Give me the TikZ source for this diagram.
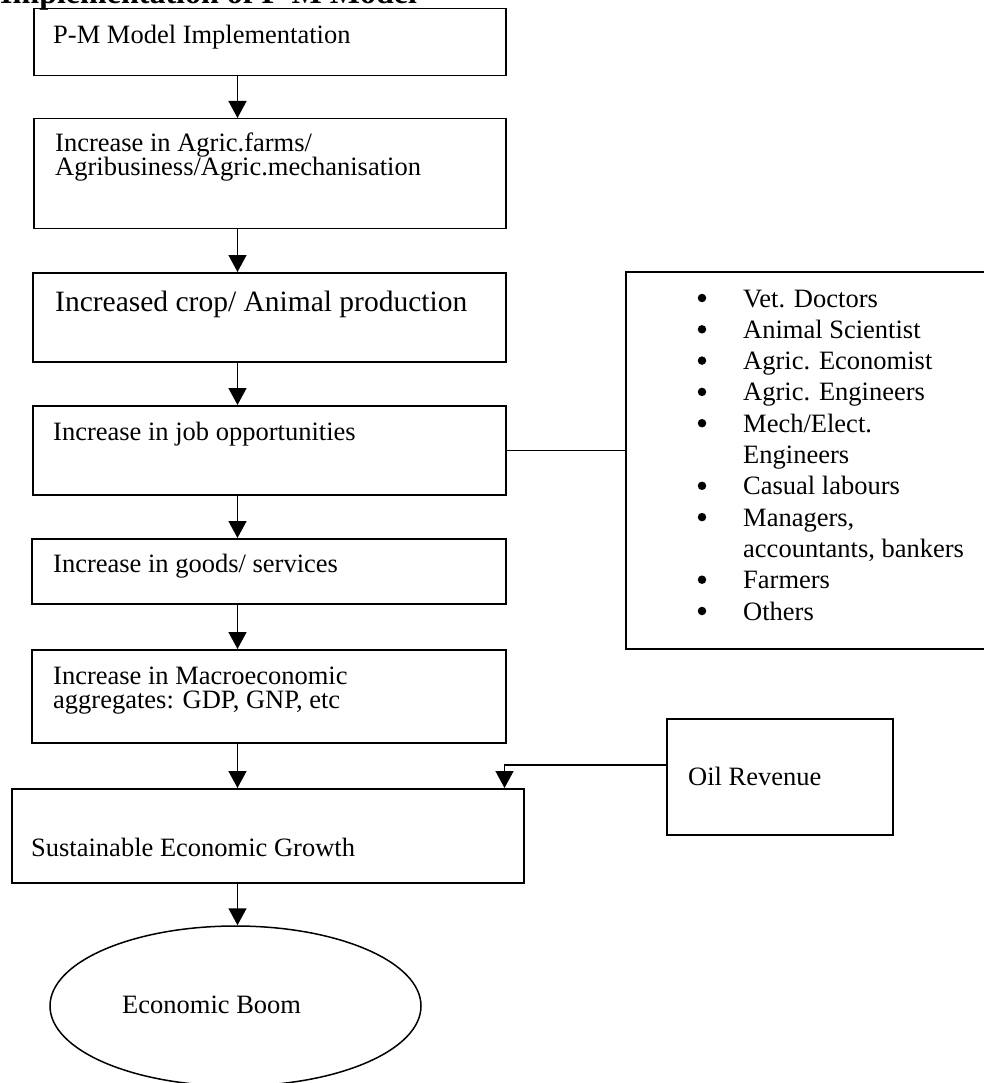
\documentclass[tikz,border=0pt]{standalone}
\usepackage{fontspec}
\setmainfont{Liberation Serif}
\usetikzlibrary{arrows.meta,shapes.geometric,positioning}

\newcommand{\boxfont}{\fontsize{26.5}{31}\selectfont}

\tikzset{
  box/.style={draw, line width=1.5pt, rectangle, inner sep=0pt, anchor=north west},
  txt/.style={anchor=base west, inner sep=0pt, font=\boxfont},
  dot/.style={circle, fill, inner sep=0pt, minimum size=8.5pt},
  arr/.style={-{Triangle[length=17pt,width=18pt]}, line width=1.5pt},
  link/.style={line width=1.5pt}
}

\begin{document}
\begin{tikzpicture}[x=1pt, y=1pt]
\useasboundingbox (0,0) rectangle (984,-1083);

% title, cut off by the page edge
\node[anchor=base west, inner sep=0pt, font=\fontsize{32}{32}\selectfont\bfseries] (title) at (0,-4) {Implementation of P-M Model};

% main chain
\node[box, minimum width=472pt, minimum height=67pt] (b1) at (33,-8) {};
\node[txt] (t1) at (53,-44) {P-M Model Implementation};

\node[box, minimum width=472pt, minimum height=110pt] (b2) at (33,-118) {};
\node[txt] (t2a) at (55,-152) {Increase in Agric.farms/};
\node[txt] (t2b) at (55,-176) {Agribusiness/Agric.mechanisation};

\node[box, minimum width=473pt, minimum height=89pt] (b3) at (32,-272) {};
\node[txt, font=\fontsize{29.5}{31}\selectfont] (t3) at (55,-311) {Increased crop/ Animal production};

\node[box, minimum width=473pt, minimum height=89pt] (b4) at (32,-405) {};
\node[txt] (t4) at (53,-440) {Increase in job opportunities};

\node[box, minimum width=474pt, minimum height=65pt] (b5) at (31,-538) {};
\node[txt] (t5) at (53,-572) {Increase in goods/ services};

\node[box, minimum width=474pt, minimum height=93pt] (b6) at (31,-649) {};
\node[txt] (t6a) at (53,-684) {Increase in Macroeconomic};
\node[txt] (t6b) at (53,-708) {aggregates: GDP, GNP, etc};

\node[box, minimum width=512pt, minimum height=94pt] (b7) at (11,-788) {};
\node[txt] (t7) at (31,-856) {Sustainable Economic Growth};

\node[draw, ellipse, line width=1.5pt, minimum width=371pt, minimum height=160pt] (boom) at (235.5,-1006) {};
\node[txt] (boomtxt) at (122,-1013) {Economic Boom};

% side boxes
\node[box, minimum width=370pt, minimum height=377pt] (roles) at (625,-271) {};
\foreach \lbl [count=\i from 0] in {Vet. Doctors, Animal Scientist, Agric. Economist,
    Agric. Engineers, Mech/Elect., Engineers, Casual labours, {Managers,},
    {accountants, bankers}, Farmers, Others}
  \node[txt] (item-\i) at (743,{-307-31.3*\i}) {\lbl};
\foreach \i in {0,1,2,3,4,6,7,9,10}
  \node[dot] (dot-\i) at (702,{-298-31.3*\i}) {};

\node[box, minimum width=226pt, minimum height=116pt] (oil) at (666,-718) {};
\node[txt] (oiltxt) at (688,-785) {Oil Revenue};

% connectors
\coordinate (axis) at (237.5,0);
\draw[arr] (b1.south -| axis) -- (b2.north -| axis);
\draw[arr] (b2.south -| axis) -- (b3.north -| axis);
\draw[arr] (b3.south -| axis) -- (b4.north -| axis);
\draw[arr] (b4.south -| axis) -- (b5.north -| axis);
\draw[arr] (b5.south -| axis) -- (b6.north -| axis);
\draw[arr] (b6.south -| axis) -- (b7.north -| axis);
\draw[arr] (b7.south -| axis) -- (boom.north -| axis);
\draw[link] (b4.east) -- (b4.east -| roles.west);
\draw[arr] ([yshift=12pt]oil.west) -| ([xshift=-20pt]b7.north east);

\end{tikzpicture}
\end{document}
